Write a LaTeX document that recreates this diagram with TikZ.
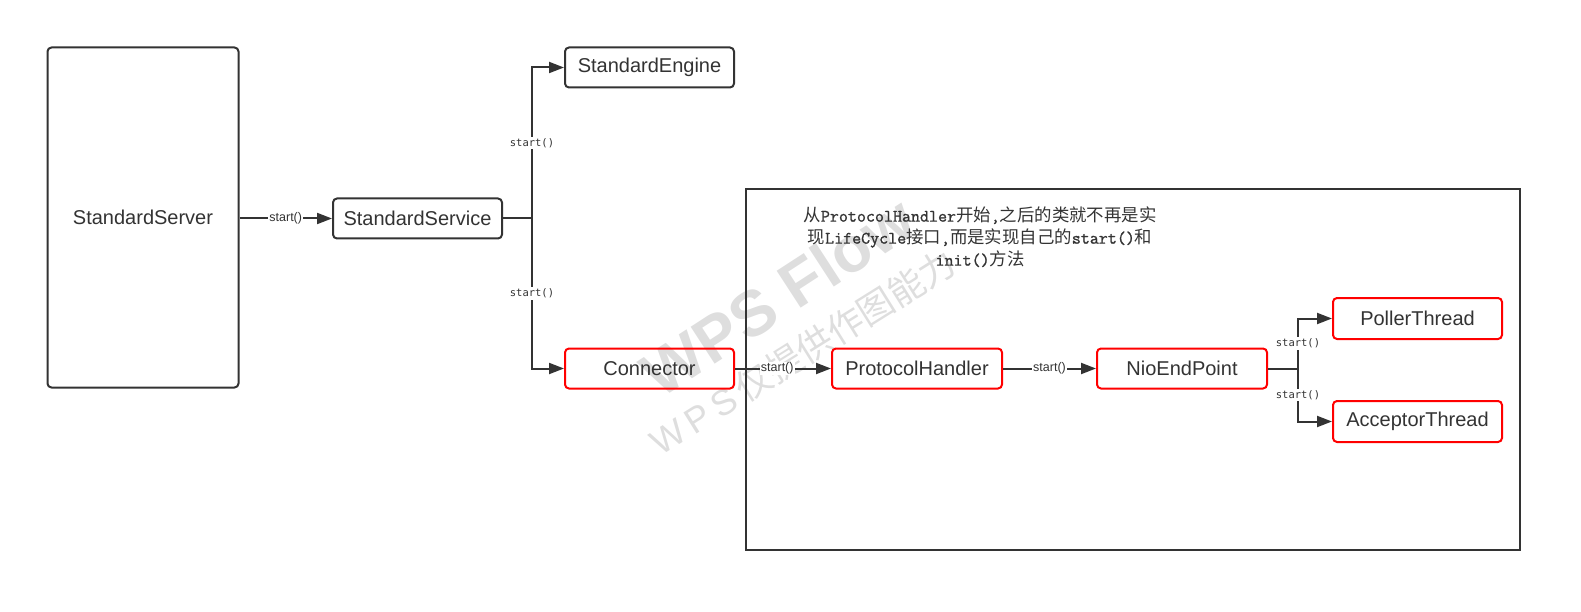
\documentclass[tikz,border=0pt]{standalone}
\usepackage{fontspec}
\setmainfont{Liberation Sans}
\newfontfamily\cjk{Noto Sans CJK SC}
\newfontfamily\cmono[FakeBold=1.2]{Latin Modern Mono}
\newfontfamily\dmono{DejaVu Sans Mono}
\usetikzlibrary{arrows.meta}
\definecolor{ink}{HTML}{333333}
\definecolor{wm}{HTML}{DEDEDE}
\tikzset{
  box/.style={draw=ink, line width=2pt, rounded corners=4pt, minimum width=169pt, minimum height=40pt, inner sep=0pt, text=ink, font=\fontsize{20}{22}\selectfont},
  redbox/.style={box, draw=red},
  frame/.style={draw=ink, line width=2pt, inner sep=0pt},
  wire/.style={draw=ink, line width=2pt},
  conn/.style={wire, -{Triangle[length=15pt,width=11pt]}},
  hlbl/.style={fill=white, inner sep=1pt, text=ink, font=\fontsize{12.5}{12.5}\selectfont},
  vlbl/.style={fill=white, inner sep=1.5pt, text=ink, font=\dmono\fontsize{10.5}{10.5}\selectfont},
  note/.style={align=center, text=ink, inner sep=0pt, font=\fontsize{17.4}{22}\selectfont},
}
\newcommand{\zh}[1]{{\cjk #1}}
\newcommand{\mn}[1]{{\cmono\fontsize{17.5}{22}\selectfont #1}}
\begin{document}
\begin{tikzpicture}[x=1pt, y=-1pt]
\useasboundingbox (0,0) rectangle (1581,612);
% watermark
\node[rotate=33, text=wm, font=\bfseries\fontsize{64}{64}\selectfont] (wma) at (778,296) {WPS Flow};
\node[rotate=32, text=wm, font=\fontsize{36}{36}\selectfont] (wmb) at (803,352) {W\,P\,S\,\zh{仅提供作图能力}};
% frame
\node[frame, minimum width=774pt, minimum height=361pt] (frame) at (1133,369.5) {};
\node[note] (note) at (980,237) {%
\zh{从}\mn{ProtocolHandler}\zh{开始}\mn{,}\zh{之后的类就不再是实}\\
\zh{现}\mn{LifeCycle}\zh{接口}\mn{,}\zh{而是实现自己的}\mn{start()}\zh{和}\\
\mn{init()}\zh{方法}};
% nodes
\node[box, minimum width=191pt, minimum height=340pt] (server) at (143,217.5) {StandardServer};
\node[box] (service) at (417.5,218.5) {StandardService};
\node[box] (engine) at (649.5,67.5) {StandardEngine};
\node[redbox] (connector) at (649.5,368.5) {Connector};
\node[redbox, minimum width=170pt] (proto) at (917,368.5) {ProtocolHandler};
\node[redbox, minimum width=170pt] (nio) at (1182,368.5) {NioEndPoint};
\node[redbox, minimum height=41pt] (poller) at (1417.5,318.5) {PollerThread};
\node[redbox, minimum height=41pt] (acceptor) at (1417.5,421.5) {AcceptorThread};
% connectors
\coordinate (b1) at (532,218.5);
\coordinate (b2) at (1298,368.5);
\draw[conn] (server.east |- service.west) -- node[hlbl]{start()} (service.west);
\draw[wire] (service.east) -- (b1);
\draw[conn] (b1) |- node[vlbl, pos=0.25]{start()} (engine.west);
\draw[conn] (b1) |- node[vlbl, pos=0.25]{start()} (connector.west);
\draw[conn] (connector.east) -- node[hlbl, pos=0.44]{start()} (proto.west);
\draw[conn] (proto.east) -- node[hlbl]{start()} (nio.west);
\draw[wire] (nio.east) -- (b2);
\draw[conn] (b2) |- node[vlbl, pos=0.25]{start()} (poller.west);
\draw[conn] (b2) |- node[vlbl, pos=0.25]{start()} (acceptor.west);
\end{tikzpicture}
\end{document}
